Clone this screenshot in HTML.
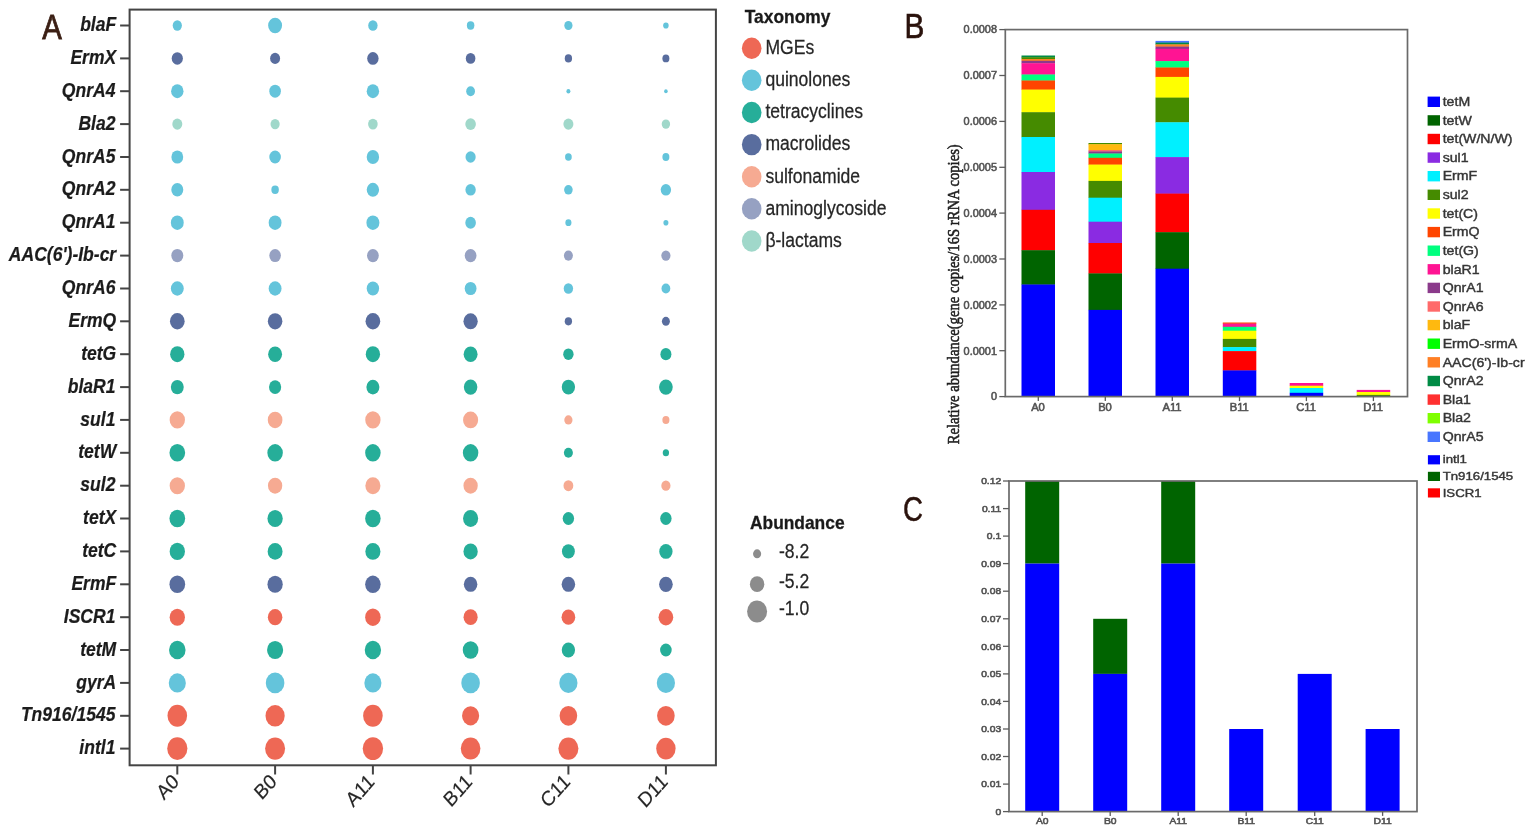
<!DOCTYPE html>
<html lang="en">
<head>
<meta charset="utf-8">
<title>ARG and MGE abundance figure</title>
<style>
html,body{margin:0;padding:0;background:#fff;}
body{width:1535px;height:833px;overflow:hidden;}
svg{display:block;}
</style>
</head>
<body>
<svg width="1535" height="833" viewBox="0 0 1535 833">
<rect width="1535" height="833" fill="#ffffff"/>
<g>
<g id="panelA">
<rect x="129.6" y="9.6" width="586.3" height="755.7" fill="none" stroke="#444" stroke-width="2"/>
<line x1="120.1" y1="25.5" x2="129.6" y2="25.5" stroke="#444" stroke-width="2"/>
<line x1="120.1" y1="58.4" x2="129.6" y2="58.4" stroke="#444" stroke-width="2"/>
<line x1="120.1" y1="91.2" x2="129.6" y2="91.2" stroke="#444" stroke-width="2"/>
<line x1="120.1" y1="124.1" x2="129.6" y2="124.1" stroke="#444" stroke-width="2"/>
<line x1="120.1" y1="157.0" x2="129.6" y2="157.0" stroke="#444" stroke-width="2"/>
<line x1="120.1" y1="189.8" x2="129.6" y2="189.8" stroke="#444" stroke-width="2"/>
<line x1="120.1" y1="222.7" x2="129.6" y2="222.7" stroke="#444" stroke-width="2"/>
<line x1="120.1" y1="255.6" x2="129.6" y2="255.6" stroke="#444" stroke-width="2"/>
<line x1="120.1" y1="288.5" x2="129.6" y2="288.5" stroke="#444" stroke-width="2"/>
<line x1="120.1" y1="321.3" x2="129.6" y2="321.3" stroke="#444" stroke-width="2"/>
<line x1="120.1" y1="354.2" x2="129.6" y2="354.2" stroke="#444" stroke-width="2"/>
<line x1="120.1" y1="387.1" x2="129.6" y2="387.1" stroke="#444" stroke-width="2"/>
<line x1="120.1" y1="419.9" x2="129.6" y2="419.9" stroke="#444" stroke-width="2"/>
<line x1="120.1" y1="452.8" x2="129.6" y2="452.8" stroke="#444" stroke-width="2"/>
<line x1="120.1" y1="485.7" x2="129.6" y2="485.7" stroke="#444" stroke-width="2"/>
<line x1="120.1" y1="518.5" x2="129.6" y2="518.5" stroke="#444" stroke-width="2"/>
<line x1="120.1" y1="551.4" x2="129.6" y2="551.4" stroke="#444" stroke-width="2"/>
<line x1="120.1" y1="584.3" x2="129.6" y2="584.3" stroke="#444" stroke-width="2"/>
<line x1="120.1" y1="617.2" x2="129.6" y2="617.2" stroke="#444" stroke-width="2"/>
<line x1="120.1" y1="650.0" x2="129.6" y2="650.0" stroke="#444" stroke-width="2"/>
<line x1="120.1" y1="682.9" x2="129.6" y2="682.9" stroke="#444" stroke-width="2"/>
<line x1="120.1" y1="715.8" x2="129.6" y2="715.8" stroke="#444" stroke-width="2"/>
<line x1="120.1" y1="748.6" x2="129.6" y2="748.6" stroke="#444" stroke-width="2"/>
<line x1="177.3" y1="765.3" x2="177.3" y2="774.5" stroke="#444" stroke-width="2"/>
<line x1="275.1" y1="765.3" x2="275.1" y2="774.5" stroke="#444" stroke-width="2"/>
<line x1="372.9" y1="765.3" x2="372.9" y2="774.5" stroke="#444" stroke-width="2"/>
<line x1="470.6" y1="765.3" x2="470.6" y2="774.5" stroke="#444" stroke-width="2"/>
<line x1="568.4" y1="765.3" x2="568.4" y2="774.5" stroke="#444" stroke-width="2"/>
<line x1="665.9" y1="765.3" x2="665.9" y2="774.5" stroke="#444" stroke-width="2"/>
<g font-family="'Liberation Sans', Arial, sans-serif" font-weight="bold" font-style="italic" font-size="19.6" fill="#1c1c1c" stroke="#1c1c1c" stroke-width="0.22" text-anchor="end">
<text transform="translate(116.2 31.1) scale(0.895 1)">blaF</text>
<text transform="translate(116.2 64.0) scale(0.895 1)">ErmX</text>
<text transform="translate(115.4 96.8) scale(0.895 1)">QnrA4</text>
<text transform="translate(115.4 129.7) scale(0.895 1)">Bla2</text>
<text transform="translate(115.4 162.6) scale(0.895 1)">QnrA5</text>
<text transform="translate(115.4 195.4) scale(0.895 1)">QnrA2</text>
<text transform="translate(115.4 228.3) scale(0.895 1)">QnrA1</text>
<text transform="translate(116.2 261.2) scale(0.895 1)">AAC(6')-Ib-cr</text>
<text transform="translate(115.4 294.1) scale(0.895 1)">QnrA6</text>
<text transform="translate(116.2 326.9) scale(0.895 1)">ErmQ</text>
<text transform="translate(116.2 359.8) scale(0.895 1)">tetG</text>
<text transform="translate(115.4 392.7) scale(0.895 1)">blaR1</text>
<text transform="translate(115.4 425.5) scale(0.895 1)">sul1</text>
<text transform="translate(116.2 458.4) scale(0.895 1)">tetW</text>
<text transform="translate(115.4 491.3) scale(0.895 1)">sul2</text>
<text transform="translate(116.2 524.1) scale(0.895 1)">tetX</text>
<text transform="translate(116.2 557.0) scale(0.895 1)">tetC</text>
<text transform="translate(116.2 589.9) scale(0.895 1)">ErmF</text>
<text transform="translate(115.4 622.8) scale(0.895 1)">ISCR1</text>
<text transform="translate(116.2 655.6) scale(0.895 1)">tetM</text>
<text transform="translate(116.2 688.5) scale(0.895 1)">gyrA</text>
<text transform="translate(115.4 721.4) scale(0.895 1)">Tn916/1545</text>
<text transform="translate(115.4 754.2) scale(0.895 1)">intl1</text>
</g>
<ellipse cx="177.3" cy="25.5" rx="4.60" ry="5.15" fill="#64C4DB"/>
<ellipse cx="275.1" cy="25.5" rx="6.95" ry="7.78" fill="#64C4DB"/>
<ellipse cx="372.9" cy="25.5" rx="4.70" ry="5.26" fill="#64C4DB"/>
<ellipse cx="470.6" cy="25.5" rx="3.75" ry="4.20" fill="#64C4DB"/>
<ellipse cx="568.4" cy="25.5" rx="4.10" ry="4.59" fill="#64C4DB"/>
<ellipse cx="665.9" cy="25.5" rx="2.75" ry="3.08" fill="#64C4DB"/>
<ellipse cx="177.3" cy="58.4" rx="5.60" ry="6.27" fill="#596D9E"/>
<ellipse cx="275.1" cy="58.4" rx="5.00" ry="5.60" fill="#596D9E"/>
<ellipse cx="372.9" cy="58.4" rx="5.70" ry="6.38" fill="#596D9E"/>
<ellipse cx="470.6" cy="58.4" rx="4.80" ry="5.38" fill="#596D9E"/>
<ellipse cx="568.4" cy="58.4" rx="3.65" ry="4.09" fill="#596D9E"/>
<ellipse cx="665.9" cy="58.4" rx="3.50" ry="3.92" fill="#596D9E"/>
<ellipse cx="177.3" cy="91.2" rx="6.20" ry="6.94" fill="#64C4DB"/>
<ellipse cx="275.1" cy="91.2" rx="5.80" ry="6.50" fill="#64C4DB"/>
<ellipse cx="372.9" cy="91.2" rx="6.20" ry="6.94" fill="#64C4DB"/>
<ellipse cx="470.6" cy="91.2" rx="4.40" ry="4.93" fill="#64C4DB"/>
<ellipse cx="568.4" cy="91.2" rx="2.00" ry="2.24" fill="#64C4DB"/>
<ellipse cx="665.9" cy="91.2" rx="1.80" ry="2.02" fill="#64C4DB"/>
<ellipse cx="177.3" cy="124.1" rx="5.00" ry="5.60" fill="#A0D8CA"/>
<ellipse cx="275.1" cy="124.1" rx="4.60" ry="5.15" fill="#A0D8CA"/>
<ellipse cx="372.9" cy="124.1" rx="4.80" ry="5.38" fill="#A0D8CA"/>
<ellipse cx="470.6" cy="124.1" rx="5.30" ry="5.94" fill="#A0D8CA"/>
<ellipse cx="568.4" cy="124.1" rx="5.00" ry="5.60" fill="#A0D8CA"/>
<ellipse cx="665.9" cy="124.1" rx="4.20" ry="4.70" fill="#A0D8CA"/>
<ellipse cx="177.3" cy="157.0" rx="5.90" ry="6.61" fill="#64C4DB"/>
<ellipse cx="275.1" cy="157.0" rx="5.80" ry="6.50" fill="#64C4DB"/>
<ellipse cx="372.9" cy="157.0" rx="6.20" ry="6.94" fill="#64C4DB"/>
<ellipse cx="470.6" cy="157.0" rx="5.10" ry="5.71" fill="#64C4DB"/>
<ellipse cx="568.4" cy="157.0" rx="3.35" ry="3.75" fill="#64C4DB"/>
<ellipse cx="665.9" cy="157.0" rx="3.50" ry="3.92" fill="#64C4DB"/>
<ellipse cx="177.3" cy="189.8" rx="6.00" ry="6.72" fill="#64C4DB"/>
<ellipse cx="275.1" cy="189.8" rx="3.75" ry="4.20" fill="#64C4DB"/>
<ellipse cx="372.9" cy="189.8" rx="6.20" ry="6.94" fill="#64C4DB"/>
<ellipse cx="470.6" cy="189.8" rx="5.20" ry="5.82" fill="#64C4DB"/>
<ellipse cx="568.4" cy="189.8" rx="4.30" ry="4.82" fill="#64C4DB"/>
<ellipse cx="665.9" cy="189.8" rx="5.20" ry="5.82" fill="#64C4DB"/>
<ellipse cx="177.3" cy="222.7" rx="6.45" ry="7.22" fill="#64C4DB"/>
<ellipse cx="275.1" cy="222.7" rx="6.45" ry="7.22" fill="#64C4DB"/>
<ellipse cx="372.9" cy="222.7" rx="6.50" ry="7.28" fill="#64C4DB"/>
<ellipse cx="470.6" cy="222.7" rx="5.30" ry="5.94" fill="#64C4DB"/>
<ellipse cx="568.4" cy="222.7" rx="3.05" ry="3.42" fill="#64C4DB"/>
<ellipse cx="665.9" cy="222.7" rx="2.50" ry="2.80" fill="#64C4DB"/>
<ellipse cx="177.3" cy="255.6" rx="6.00" ry="6.72" fill="#96A1C2"/>
<ellipse cx="275.1" cy="255.6" rx="5.80" ry="6.50" fill="#96A1C2"/>
<ellipse cx="372.9" cy="255.6" rx="5.90" ry="6.61" fill="#96A1C2"/>
<ellipse cx="470.6" cy="255.6" rx="5.90" ry="6.61" fill="#96A1C2"/>
<ellipse cx="568.4" cy="255.6" rx="4.50" ry="5.04" fill="#96A1C2"/>
<ellipse cx="665.9" cy="255.6" rx="4.60" ry="5.15" fill="#96A1C2"/>
<ellipse cx="177.3" cy="288.5" rx="6.45" ry="7.22" fill="#64C4DB"/>
<ellipse cx="275.1" cy="288.5" rx="6.45" ry="7.22" fill="#64C4DB"/>
<ellipse cx="372.9" cy="288.5" rx="6.20" ry="6.94" fill="#64C4DB"/>
<ellipse cx="470.6" cy="288.5" rx="5.90" ry="6.61" fill="#64C4DB"/>
<ellipse cx="568.4" cy="288.5" rx="4.70" ry="5.26" fill="#64C4DB"/>
<ellipse cx="665.9" cy="288.5" rx="4.40" ry="4.93" fill="#64C4DB"/>
<ellipse cx="177.3" cy="321.3" rx="7.35" ry="8.23" fill="#596D9E"/>
<ellipse cx="275.1" cy="321.3" rx="7.25" ry="8.12" fill="#596D9E"/>
<ellipse cx="372.9" cy="321.3" rx="7.35" ry="8.23" fill="#596D9E"/>
<ellipse cx="470.6" cy="321.3" rx="7.15" ry="8.01" fill="#596D9E"/>
<ellipse cx="568.4" cy="321.3" rx="3.65" ry="4.09" fill="#596D9E"/>
<ellipse cx="665.9" cy="321.3" rx="4.00" ry="4.48" fill="#596D9E"/>
<ellipse cx="177.3" cy="354.2" rx="7.15" ry="8.01" fill="#26AE99"/>
<ellipse cx="275.1" cy="354.2" rx="6.95" ry="7.78" fill="#26AE99"/>
<ellipse cx="372.9" cy="354.2" rx="7.15" ry="8.01" fill="#26AE99"/>
<ellipse cx="470.6" cy="354.2" rx="6.95" ry="7.78" fill="#26AE99"/>
<ellipse cx="568.4" cy="354.2" rx="5.20" ry="5.82" fill="#26AE99"/>
<ellipse cx="665.9" cy="354.2" rx="5.50" ry="6.16" fill="#26AE99"/>
<ellipse cx="177.3" cy="387.1" rx="6.45" ry="7.22" fill="#26AE99"/>
<ellipse cx="275.1" cy="387.1" rx="6.10" ry="6.83" fill="#26AE99"/>
<ellipse cx="372.9" cy="387.1" rx="6.50" ry="7.28" fill="#26AE99"/>
<ellipse cx="470.6" cy="387.1" rx="6.75" ry="7.56" fill="#26AE99"/>
<ellipse cx="568.4" cy="387.1" rx="6.65" ry="7.45" fill="#26AE99"/>
<ellipse cx="665.9" cy="387.1" rx="6.85" ry="7.67" fill="#26AE99"/>
<ellipse cx="177.3" cy="419.9" rx="7.65" ry="8.57" fill="#F6AA92"/>
<ellipse cx="275.1" cy="419.9" rx="7.35" ry="8.23" fill="#F6AA92"/>
<ellipse cx="372.9" cy="419.9" rx="7.65" ry="8.57" fill="#F6AA92"/>
<ellipse cx="470.6" cy="419.9" rx="7.55" ry="8.46" fill="#F6AA92"/>
<ellipse cx="568.4" cy="419.9" rx="4.10" ry="4.59" fill="#F6AA92"/>
<ellipse cx="665.9" cy="419.9" rx="3.55" ry="3.98" fill="#F6AA92"/>
<ellipse cx="177.3" cy="452.8" rx="7.85" ry="8.79" fill="#26AE99"/>
<ellipse cx="275.1" cy="452.8" rx="7.75" ry="8.68" fill="#26AE99"/>
<ellipse cx="372.9" cy="452.8" rx="7.75" ry="8.68" fill="#26AE99"/>
<ellipse cx="470.6" cy="452.8" rx="7.75" ry="8.68" fill="#26AE99"/>
<ellipse cx="568.4" cy="452.8" rx="4.50" ry="5.04" fill="#26AE99"/>
<ellipse cx="665.9" cy="452.8" rx="3.15" ry="3.53" fill="#26AE99"/>
<ellipse cx="177.3" cy="485.7" rx="7.65" ry="8.57" fill="#F6AA92"/>
<ellipse cx="275.1" cy="485.7" rx="7.15" ry="8.01" fill="#F6AA92"/>
<ellipse cx="372.9" cy="485.7" rx="7.55" ry="8.46" fill="#F6AA92"/>
<ellipse cx="470.6" cy="485.7" rx="7.15" ry="8.01" fill="#F6AA92"/>
<ellipse cx="568.4" cy="485.7" rx="4.90" ry="5.49" fill="#F6AA92"/>
<ellipse cx="665.9" cy="485.7" rx="4.60" ry="5.15" fill="#F6AA92"/>
<ellipse cx="177.3" cy="518.5" rx="7.85" ry="8.79" fill="#26AE99"/>
<ellipse cx="275.1" cy="518.5" rx="7.65" ry="8.57" fill="#26AE99"/>
<ellipse cx="372.9" cy="518.5" rx="7.75" ry="8.68" fill="#26AE99"/>
<ellipse cx="470.6" cy="518.5" rx="7.55" ry="8.46" fill="#26AE99"/>
<ellipse cx="568.4" cy="518.5" rx="5.70" ry="6.38" fill="#26AE99"/>
<ellipse cx="665.9" cy="518.5" rx="5.70" ry="6.38" fill="#26AE99"/>
<ellipse cx="177.3" cy="551.4" rx="7.65" ry="8.57" fill="#26AE99"/>
<ellipse cx="275.1" cy="551.4" rx="7.45" ry="8.34" fill="#26AE99"/>
<ellipse cx="372.9" cy="551.4" rx="7.55" ry="8.46" fill="#26AE99"/>
<ellipse cx="470.6" cy="551.4" rx="7.15" ry="8.01" fill="#26AE99"/>
<ellipse cx="568.4" cy="551.4" rx="6.45" ry="7.22" fill="#26AE99"/>
<ellipse cx="665.9" cy="551.4" rx="6.65" ry="7.45" fill="#26AE99"/>
<ellipse cx="177.3" cy="584.3" rx="7.85" ry="8.79" fill="#596D9E"/>
<ellipse cx="275.1" cy="584.3" rx="7.65" ry="8.57" fill="#596D9E"/>
<ellipse cx="372.9" cy="584.3" rx="7.75" ry="8.68" fill="#596D9E"/>
<ellipse cx="470.6" cy="584.3" rx="6.75" ry="7.56" fill="#596D9E"/>
<ellipse cx="568.4" cy="584.3" rx="6.75" ry="7.56" fill="#596D9E"/>
<ellipse cx="665.9" cy="584.3" rx="6.85" ry="7.67" fill="#596D9E"/>
<ellipse cx="177.3" cy="617.2" rx="7.65" ry="8.57" fill="#EE6855"/>
<ellipse cx="275.1" cy="617.2" rx="7.25" ry="8.12" fill="#EE6855"/>
<ellipse cx="372.9" cy="617.2" rx="7.75" ry="8.68" fill="#EE6855"/>
<ellipse cx="470.6" cy="617.2" rx="7.05" ry="7.90" fill="#EE6855"/>
<ellipse cx="568.4" cy="617.2" rx="6.85" ry="7.67" fill="#EE6855"/>
<ellipse cx="665.9" cy="617.2" rx="7.35" ry="8.23" fill="#EE6855"/>
<ellipse cx="177.3" cy="650.0" rx="8.25" ry="9.24" fill="#26AE99"/>
<ellipse cx="275.1" cy="650.0" rx="8.05" ry="9.02" fill="#26AE99"/>
<ellipse cx="372.9" cy="650.0" rx="8.15" ry="9.13" fill="#26AE99"/>
<ellipse cx="470.6" cy="650.0" rx="7.85" ry="8.79" fill="#26AE99"/>
<ellipse cx="568.4" cy="650.0" rx="6.65" ry="7.45" fill="#26AE99"/>
<ellipse cx="665.9" cy="650.0" rx="5.80" ry="6.50" fill="#26AE99"/>
<ellipse cx="177.3" cy="682.9" rx="8.55" ry="9.58" fill="#64C4DB"/>
<ellipse cx="275.1" cy="682.9" rx="9.30" ry="10.42" fill="#64C4DB"/>
<ellipse cx="372.9" cy="682.9" rx="8.55" ry="9.58" fill="#64C4DB"/>
<ellipse cx="470.6" cy="682.9" rx="9.30" ry="10.42" fill="#64C4DB"/>
<ellipse cx="568.4" cy="682.9" rx="9.10" ry="10.19" fill="#64C4DB"/>
<ellipse cx="665.9" cy="682.9" rx="9.10" ry="10.19" fill="#64C4DB"/>
<ellipse cx="177.3" cy="715.8" rx="9.80" ry="10.98" fill="#EE6855"/>
<ellipse cx="275.1" cy="715.8" rx="9.60" ry="10.75" fill="#EE6855"/>
<ellipse cx="372.9" cy="715.8" rx="9.80" ry="10.98" fill="#EE6855"/>
<ellipse cx="470.6" cy="715.8" rx="8.55" ry="9.58" fill="#EE6855"/>
<ellipse cx="568.4" cy="715.8" rx="8.80" ry="9.86" fill="#EE6855"/>
<ellipse cx="665.9" cy="715.8" rx="8.80" ry="9.86" fill="#EE6855"/>
<ellipse cx="177.3" cy="748.6" rx="10.10" ry="11.31" fill="#EE6855"/>
<ellipse cx="275.1" cy="748.6" rx="10.00" ry="11.20" fill="#EE6855"/>
<ellipse cx="372.9" cy="748.6" rx="10.20" ry="11.42" fill="#EE6855"/>
<ellipse cx="470.6" cy="748.6" rx="9.80" ry="10.98" fill="#EE6855"/>
<ellipse cx="568.4" cy="748.6" rx="10.00" ry="11.20" fill="#EE6855"/>
<ellipse cx="665.9" cy="748.6" rx="9.70" ry="10.86" fill="#EE6855"/>
<g font-family="'Liberation Sans', Arial, sans-serif" font-size="19.4" fill="#262626" stroke="#262626" stroke-width="0.15" text-anchor="end">
<text transform="translate(180.1 782.9) scale(0.96 1.07) rotate(-45)">A0</text>
<text transform="translate(277.9 782.9) scale(0.96 1.07) rotate(-45)">B0</text>
<text transform="translate(375.7 782.9) scale(0.96 1.07) rotate(-45)">A11</text>
<text transform="translate(473.4 782.9) scale(0.96 1.07) rotate(-45)">B11</text>
<text transform="translate(571.2 782.9) scale(0.96 1.07) rotate(-45)">C11</text>
<text transform="translate(668.7 782.9) scale(0.96 1.07) rotate(-45)">D11</text>
</g>
<text transform="translate(42.2 38.8) scale(0.84 1)" font-family="'Liberation Sans', Arial, sans-serif" font-size="35" fill="#3b1f14" stroke="#3b1f14" stroke-width="0.8">A</text>
</g>
<g id="legendA" font-family="'Liberation Sans', Arial, sans-serif">
<text transform="translate(744.8 23.4) scale(0.905 1)" font-weight="bold" font-size="19.2" fill="#1a1a1a" stroke="#1a1a1a" stroke-width="0.3">Taxonomy</text>
<ellipse cx="751.7" cy="48.2" rx="9.8" ry="10.7" fill="#EE6855"/>
<text transform="translate(765.4 54.0) scale(0.905 1)" font-size="19.4" fill="#262626" stroke="#262626" stroke-width="0.25">MGEs</text>
<ellipse cx="751.7" cy="80.3" rx="9.8" ry="10.7" fill="#64C4DB"/>
<text transform="translate(765.4 86.1) scale(0.905 1)" font-size="19.4" fill="#262626" stroke="#262626" stroke-width="0.25">quinolones</text>
<ellipse cx="751.7" cy="112.5" rx="9.8" ry="10.7" fill="#26AE99"/>
<text transform="translate(765.4 118.3) scale(0.905 1)" font-size="19.4" fill="#262626" stroke="#262626" stroke-width="0.25">tetracyclines</text>
<ellipse cx="751.7" cy="144.6" rx="9.8" ry="10.7" fill="#596D9E"/>
<text transform="translate(765.4 150.4) scale(0.905 1)" font-size="19.4" fill="#262626" stroke="#262626" stroke-width="0.25">macrolides</text>
<ellipse cx="751.7" cy="176.7" rx="9.8" ry="10.7" fill="#F6AA92"/>
<text transform="translate(765.4 182.5) scale(0.905 1)" font-size="19.4" fill="#262626" stroke="#262626" stroke-width="0.25">sulfonamide</text>
<ellipse cx="751.7" cy="208.8" rx="9.8" ry="10.7" fill="#96A1C2"/>
<text transform="translate(765.4 214.7) scale(0.905 1)" font-size="19.4" fill="#262626" stroke="#262626" stroke-width="0.25">aminoglycoside</text>
<ellipse cx="751.7" cy="241.0" rx="9.8" ry="10.7" fill="#A0D8CA"/>
<text transform="translate(765.4 246.8) scale(0.905 1)" font-size="19.4" fill="#262626" stroke="#262626" stroke-width="0.25">β-lactams</text>
<text transform="translate(750 529.2) scale(0.905 1)" font-weight="bold" font-size="19.2" fill="#1a1a1a" stroke="#1a1a1a" stroke-width="0.3">Abundance</text>
<ellipse cx="757.1" cy="553.8" rx="4.05" ry="4.46" fill="#8c8c8c"/>
<text transform="translate(779 557.7) scale(0.905 1)" font-size="19.4" fill="#262626" stroke="#262626" stroke-width="0.25">-8.2</text>
<ellipse cx="757.1" cy="584.2" rx="7.20" ry="7.92" fill="#8c8c8c"/>
<text transform="translate(779 588.1) scale(0.905 1)" font-size="19.4" fill="#262626" stroke="#262626" stroke-width="0.25">-5.2</text>
<ellipse cx="757.1" cy="611.5" rx="10.00" ry="11.00" fill="#8c8c8c"/>
<text transform="translate(779 615.1) scale(0.905 1)" font-size="19.4" fill="#262626" stroke="#262626" stroke-width="0.25">-1.0</text>
</g>
<g id="panelB">
<rect x="1021.5" y="55.5" width="33.5" height="2.0" fill="#008B45"/>
<rect x="1021.5" y="57.2" width="33.5" height="2.1" fill="#458B00"/>
<rect x="1021.5" y="59.0" width="33.5" height="2.1" fill="#FF7F24"/>
<rect x="1021.5" y="60.8" width="33.5" height="2.7" fill="#8B3A8B"/>
<rect x="1021.5" y="63.2" width="33.5" height="11.6" fill="#FF1493"/>
<rect x="1021.5" y="74.5" width="33.5" height="6.3" fill="#00FF7F"/>
<rect x="1021.5" y="80.5" width="33.5" height="9.4" fill="#FF4500"/>
<rect x="1021.5" y="89.6" width="33.5" height="22.9" fill="#FFFF00"/>
<rect x="1021.5" y="112.2" width="33.5" height="25.1" fill="#458B00"/>
<rect x="1021.5" y="137.0" width="33.5" height="35.3" fill="#00F0FF"/>
<rect x="1021.5" y="172.0" width="33.5" height="38.1" fill="#8A2BE2"/>
<rect x="1021.5" y="209.8" width="33.5" height="40.7" fill="#FF0000"/>
<rect x="1021.5" y="250.2" width="33.5" height="34.6" fill="#006400"/>
<rect x="1021.5" y="284.5" width="33.5" height="112.4" fill="#0000FF"/>
<rect x="1088.5" y="143.0" width="33.5" height="1.5" fill="#458B00"/>
<rect x="1088.5" y="144.2" width="33.5" height="6.1" fill="#FFB90F"/>
<rect x="1088.5" y="150.0" width="33.5" height="1.7" fill="#FF6A6A"/>
<rect x="1088.5" y="151.4" width="33.5" height="2.4" fill="#8B3A8B"/>
<rect x="1088.5" y="153.5" width="33.5" height="4.6" fill="#00FF7F"/>
<rect x="1088.5" y="157.8" width="33.5" height="7.1" fill="#FF4500"/>
<rect x="1088.5" y="164.6" width="33.5" height="16.6" fill="#FFFF00"/>
<rect x="1088.5" y="180.9" width="33.5" height="17.1" fill="#458B00"/>
<rect x="1088.5" y="197.7" width="33.5" height="24.3" fill="#00F0FF"/>
<rect x="1088.5" y="221.7" width="33.5" height="21.6" fill="#8A2BE2"/>
<rect x="1088.5" y="243.0" width="33.5" height="30.7" fill="#FF0000"/>
<rect x="1088.5" y="273.4" width="33.5" height="36.8" fill="#006400"/>
<rect x="1088.5" y="309.9" width="33.5" height="87.0" fill="#0000FF"/>
<rect x="1155.5" y="40.9" width="33.5" height="2.0" fill="#4876FF"/>
<rect x="1155.5" y="42.6" width="33.5" height="2.1" fill="#008B45"/>
<rect x="1155.5" y="44.4" width="33.5" height="2.5" fill="#FF7F24"/>
<rect x="1155.5" y="46.6" width="33.5" height="2.5" fill="#8B3A8B"/>
<rect x="1155.5" y="48.8" width="33.5" height="12.6" fill="#FF1493"/>
<rect x="1155.5" y="61.1" width="33.5" height="6.7" fill="#00FF7F"/>
<rect x="1155.5" y="67.5" width="33.5" height="9.7" fill="#FF4500"/>
<rect x="1155.5" y="76.9" width="33.5" height="21.0" fill="#FFFF00"/>
<rect x="1155.5" y="97.6" width="33.5" height="25.0" fill="#458B00"/>
<rect x="1155.5" y="122.3" width="33.5" height="35.1" fill="#00F0FF"/>
<rect x="1155.5" y="157.1" width="33.5" height="36.8" fill="#8A2BE2"/>
<rect x="1155.5" y="193.6" width="33.5" height="38.9" fill="#FF0000"/>
<rect x="1155.5" y="232.2" width="33.5" height="36.8" fill="#006400"/>
<rect x="1155.5" y="268.7" width="33.5" height="128.2" fill="#0000FF"/>
<rect x="1222.8" y="322.5" width="33.5" height="1.4" fill="#FF4500"/>
<rect x="1222.8" y="323.6" width="33.5" height="3.5" fill="#FF1493"/>
<rect x="1222.8" y="326.8" width="33.5" height="4.2" fill="#00FF7F"/>
<rect x="1222.8" y="330.7" width="33.5" height="8.5" fill="#FFFF00"/>
<rect x="1222.8" y="338.9" width="33.5" height="8.5" fill="#458B00"/>
<rect x="1222.8" y="347.1" width="33.5" height="4.3" fill="#00F0FF"/>
<rect x="1222.8" y="351.1" width="33.5" height="19.6" fill="#FF0000"/>
<rect x="1222.8" y="370.4" width="33.5" height="26.5" fill="#0000FF"/>
<rect x="1289.7" y="383.0" width="33.5" height="3.0" fill="#FF1493"/>
<rect x="1289.7" y="385.7" width="33.5" height="2.6" fill="#FFFF00"/>
<rect x="1289.7" y="388.0" width="33.5" height="5.1" fill="#00F0FF"/>
<rect x="1289.7" y="392.8" width="33.5" height="4.1" fill="#0000FF"/>
<rect x="1356.7" y="389.9" width="33.5" height="2.4" fill="#FF1493"/>
<rect x="1356.7" y="392.0" width="33.5" height="3.2" fill="#FFFF00"/>
<rect x="1356.7" y="394.9" width="33.5" height="2.0" fill="#458B00"/>
<rect x="1005.3" y="29.6" width="402.2" height="367.0" fill="none" stroke="#6a6a6a" stroke-width="1.7"/>
<g font-family="'Liberation Sans', Arial, sans-serif" font-size="10.5" fill="#525252" stroke="#525252" stroke-width="0.55">
<line x1="999.3" y1="396.6" x2="1005.3" y2="396.6" stroke="#5c5c5c" stroke-width="1.3"/>
<text transform="translate(997.0 400.4) scale(1.04 1)" text-anchor="end">0</text>
<line x1="999.3" y1="350.7" x2="1005.3" y2="350.7" stroke="#5c5c5c" stroke-width="1.3"/>
<text transform="translate(997.0 354.5) scale(1.04 1)" text-anchor="end">0.0001</text>
<line x1="999.3" y1="304.9" x2="1005.3" y2="304.9" stroke="#5c5c5c" stroke-width="1.3"/>
<text transform="translate(997.0 308.7) scale(1.04 1)" text-anchor="end">0.0002</text>
<line x1="999.3" y1="259.0" x2="1005.3" y2="259.0" stroke="#5c5c5c" stroke-width="1.3"/>
<text transform="translate(997.0 262.8) scale(1.04 1)" text-anchor="end">0.0003</text>
<line x1="999.3" y1="213.1" x2="1005.3" y2="213.1" stroke="#5c5c5c" stroke-width="1.3"/>
<text transform="translate(997.0 216.9) scale(1.04 1)" text-anchor="end">0.0004</text>
<line x1="999.3" y1="167.3" x2="1005.3" y2="167.3" stroke="#5c5c5c" stroke-width="1.3"/>
<text transform="translate(997.0 171.1) scale(1.04 1)" text-anchor="end">0.0005</text>
<line x1="999.3" y1="121.4" x2="1005.3" y2="121.4" stroke="#5c5c5c" stroke-width="1.3"/>
<text transform="translate(997.0 125.2) scale(1.04 1)" text-anchor="end">0.0006</text>
<line x1="999.3" y1="75.5" x2="1005.3" y2="75.5" stroke="#5c5c5c" stroke-width="1.3"/>
<text transform="translate(997.0 79.3) scale(1.04 1)" text-anchor="end">0.0007</text>
<line x1="999.3" y1="29.6" x2="1005.3" y2="29.6" stroke="#5c5c5c" stroke-width="1.3"/>
<text transform="translate(997.0 33.4) scale(1.04 1)" text-anchor="end">0.0008</text>
<line x1="1038.3" y1="396.6" x2="1038.3" y2="401.1" stroke="#5c5c5c" stroke-width="1.3"/>
<text transform="translate(1038.0 410.9) scale(1.07 1)" text-anchor="middle">A0</text>
<line x1="1105.3" y1="396.6" x2="1105.3" y2="401.1" stroke="#5c5c5c" stroke-width="1.3"/>
<text transform="translate(1105.0 410.9) scale(1.07 1)" text-anchor="middle">B0</text>
<line x1="1172.3" y1="396.6" x2="1172.3" y2="401.1" stroke="#5c5c5c" stroke-width="1.3"/>
<text transform="translate(1172.0 410.9) scale(1.07 1)" text-anchor="middle">A11</text>
<line x1="1239.5" y1="396.6" x2="1239.5" y2="401.1" stroke="#5c5c5c" stroke-width="1.3"/>
<text transform="translate(1239.2 410.9) scale(1.07 1)" text-anchor="middle">B11</text>
<line x1="1306.4" y1="396.6" x2="1306.4" y2="401.1" stroke="#5c5c5c" stroke-width="1.3"/>
<text transform="translate(1306.1 410.9) scale(1.07 1)" text-anchor="middle">C11</text>
<line x1="1373.4" y1="396.6" x2="1373.4" y2="401.1" stroke="#5c5c5c" stroke-width="1.3"/>
<text transform="translate(1373.1 410.9) scale(1.07 1)" text-anchor="middle">D11</text>
</g>
<text transform="translate(958.8 444.3) rotate(-90)" font-family="'Liberation Serif', 'Times New Roman', serif" font-size="17.6" fill="#1e1e1e" stroke="#1e1e1e" stroke-width="0.55" textLength="300" lengthAdjust="spacingAndGlyphs">Relative abundance(gene copies/16S rRNA copies)</text>
<text transform="translate(904.6 38.1) scale(0.85 1)" font-family="'Liberation Sans', Arial, sans-serif" font-size="35" fill="#2a120c" stroke="#2a120c" stroke-width="0.7">B</text>
<g font-family="'Liberation Sans', Arial, sans-serif" font-size="12.4" fill="#363636" stroke="#363636" stroke-width="0.4">
<rect x="1427.6" y="96.6" width="12.4" height="10.4" fill="#0000FF" stroke="none"/>
<text transform="translate(1442.7 106.0) scale(1.14 1)">tetM</text>
<rect x="1427.6" y="115.2" width="12.4" height="10.4" fill="#006400" stroke="none"/>
<text transform="translate(1442.7 124.6) scale(1.14 1)">tetW</text>
<rect x="1427.6" y="133.8" width="12.4" height="10.4" fill="#FF0000" stroke="none"/>
<text transform="translate(1442.7 143.2) scale(1.14 1)">tet(W/N/W)</text>
<rect x="1427.6" y="152.4" width="12.4" height="10.4" fill="#8A2BE2" stroke="none"/>
<text transform="translate(1442.7 161.8) scale(1.14 1)">sul1</text>
<rect x="1427.6" y="171.0" width="12.4" height="10.4" fill="#00F0FF" stroke="none"/>
<text transform="translate(1442.7 180.4) scale(1.14 1)">ErmF</text>
<rect x="1427.6" y="189.6" width="12.4" height="10.4" fill="#458B00" stroke="none"/>
<text transform="translate(1442.7 199.0) scale(1.14 1)">sul2</text>
<rect x="1427.6" y="208.3" width="12.4" height="10.4" fill="#FFFF00" stroke="none"/>
<text transform="translate(1442.7 217.7) scale(1.14 1)">tet(C)</text>
<rect x="1427.6" y="226.9" width="12.4" height="10.4" fill="#FF4500" stroke="none"/>
<text transform="translate(1442.7 236.3) scale(1.14 1)">ErmQ</text>
<rect x="1427.6" y="245.5" width="12.4" height="10.4" fill="#00FF7F" stroke="none"/>
<text transform="translate(1442.7 254.9) scale(1.14 1)">tet(G)</text>
<rect x="1427.6" y="264.1" width="12.4" height="10.4" fill="#FF1493" stroke="none"/>
<text transform="translate(1442.7 273.5) scale(1.14 1)">blaR1</text>
<rect x="1427.6" y="282.7" width="12.4" height="10.4" fill="#8B3A8B" stroke="none"/>
<text transform="translate(1442.7 292.1) scale(1.14 1)">QnrA1</text>
<rect x="1427.6" y="301.3" width="12.4" height="10.4" fill="#FF6A6A" stroke="none"/>
<text transform="translate(1442.7 310.7) scale(1.14 1)">QnrA6</text>
<rect x="1427.6" y="319.9" width="12.4" height="10.4" fill="#FFB90F" stroke="none"/>
<text transform="translate(1442.7 329.3) scale(1.14 1)">blaF</text>
<rect x="1427.6" y="338.5" width="12.4" height="10.4" fill="#00FF00" stroke="none"/>
<text transform="translate(1442.7 347.9) scale(1.14 1)">ErmO-srmA</text>
<rect x="1427.6" y="357.1" width="12.4" height="10.4" fill="#FF7F24" stroke="none"/>
<text transform="translate(1442.7 366.5) scale(1.14 1)">AAC(6')-Ib-cr</text>
<rect x="1427.6" y="375.8" width="12.4" height="10.4" fill="#008B45" stroke="none"/>
<text transform="translate(1442.7 385.1) scale(1.14 1)">QnrA2</text>
<rect x="1427.6" y="394.4" width="12.4" height="10.4" fill="#FF3030" stroke="none"/>
<text transform="translate(1442.7 403.8) scale(1.14 1)">Bla1</text>
<rect x="1427.6" y="413.0" width="12.4" height="10.4" fill="#7FFF00" stroke="none"/>
<text transform="translate(1442.7 422.4) scale(1.14 1)">Bla2</text>
<rect x="1427.6" y="431.6" width="12.4" height="10.4" fill="#4876FF" stroke="none"/>
<text transform="translate(1442.7 441.0) scale(1.14 1)">QnrA5</text>
</g>
</g>
<g id="panelC">
<rect x="1025.2" y="481.0" width="34" height="82.6" fill="#006400"/>
<rect x="1025.2" y="563.6" width="34" height="248.0" fill="#0000FF"/>
<rect x="1093.2" y="618.8" width="34" height="55.1" fill="#006400"/>
<rect x="1093.2" y="673.9" width="34" height="137.8" fill="#0000FF"/>
<rect x="1161.2" y="481.0" width="34" height="82.6" fill="#006400"/>
<rect x="1161.2" y="563.6" width="34" height="248.0" fill="#0000FF"/>
<rect x="1229.2" y="729.0" width="34" height="82.6" fill="#0000FF"/>
<rect x="1297.7" y="673.9" width="34" height="137.8" fill="#0000FF"/>
<rect x="1365.6" y="729.0" width="34" height="82.6" fill="#0000FF"/>
<rect x="1009.0" y="481.0" width="408.0" height="330.6" fill="none" stroke="#6a6a6a" stroke-width="1.7"/>
<g font-family="'Liberation Sans', Arial, sans-serif" font-size="8.9" fill="#525252" stroke="#525252" stroke-width="0.55">
<line x1="1003.0" y1="811.6" x2="1009.0" y2="811.6" stroke="#5c5c5c" stroke-width="1.3"/>
<text transform="translate(1001.2 814.8) scale(1.16 1)" text-anchor="end">0</text>
<line x1="1003.0" y1="784.1" x2="1009.0" y2="784.1" stroke="#5c5c5c" stroke-width="1.3"/>
<text transform="translate(1001.2 787.3) scale(1.16 1)" text-anchor="end">0.01</text>
<line x1="1003.0" y1="756.5" x2="1009.0" y2="756.5" stroke="#5c5c5c" stroke-width="1.3"/>
<text transform="translate(1001.2 759.7) scale(1.16 1)" text-anchor="end">0.02</text>
<line x1="1003.0" y1="729.0" x2="1009.0" y2="729.0" stroke="#5c5c5c" stroke-width="1.3"/>
<text transform="translate(1001.2 732.2) scale(1.16 1)" text-anchor="end">0.03</text>
<line x1="1003.0" y1="701.4" x2="1009.0" y2="701.4" stroke="#5c5c5c" stroke-width="1.3"/>
<text transform="translate(1001.2 704.6) scale(1.16 1)" text-anchor="end">0.04</text>
<line x1="1003.0" y1="673.9" x2="1009.0" y2="673.9" stroke="#5c5c5c" stroke-width="1.3"/>
<text transform="translate(1001.2 677.1) scale(1.16 1)" text-anchor="end">0.05</text>
<line x1="1003.0" y1="646.3" x2="1009.0" y2="646.3" stroke="#5c5c5c" stroke-width="1.3"/>
<text transform="translate(1001.2 649.5) scale(1.16 1)" text-anchor="end">0.06</text>
<line x1="1003.0" y1="618.8" x2="1009.0" y2="618.8" stroke="#5c5c5c" stroke-width="1.3"/>
<text transform="translate(1001.2 622.0) scale(1.16 1)" text-anchor="end">0.07</text>
<line x1="1003.0" y1="591.2" x2="1009.0" y2="591.2" stroke="#5c5c5c" stroke-width="1.3"/>
<text transform="translate(1001.2 594.4) scale(1.16 1)" text-anchor="end">0.08</text>
<line x1="1003.0" y1="563.6" x2="1009.0" y2="563.6" stroke="#5c5c5c" stroke-width="1.3"/>
<text transform="translate(1001.2 566.9) scale(1.16 1)" text-anchor="end">0.09</text>
<line x1="1003.0" y1="536.1" x2="1009.0" y2="536.1" stroke="#5c5c5c" stroke-width="1.3"/>
<text transform="translate(1001.2 539.3) scale(1.16 1)" text-anchor="end">0.1</text>
<line x1="1003.0" y1="508.6" x2="1009.0" y2="508.6" stroke="#5c5c5c" stroke-width="1.3"/>
<text transform="translate(1001.2 511.8) scale(1.16 1)" text-anchor="end">0.11</text>
<line x1="1003.0" y1="481.0" x2="1009.0" y2="481.0" stroke="#5c5c5c" stroke-width="1.3"/>
<text transform="translate(1001.2 484.2) scale(1.16 1)" text-anchor="end">0.12</text>
<line x1="1042.2" y1="811.6" x2="1042.2" y2="815.9" stroke="#5c5c5c" stroke-width="1.3"/>
<text transform="translate(1042.2 823.8) scale(1.16 1)" text-anchor="middle">A0</text>
<line x1="1110.2" y1="811.6" x2="1110.2" y2="815.9" stroke="#5c5c5c" stroke-width="1.3"/>
<text transform="translate(1110.2 823.8) scale(1.16 1)" text-anchor="middle">B0</text>
<line x1="1178.2" y1="811.6" x2="1178.2" y2="815.9" stroke="#5c5c5c" stroke-width="1.3"/>
<text transform="translate(1178.2 823.8) scale(1.16 1)" text-anchor="middle">A11</text>
<line x1="1246.2" y1="811.6" x2="1246.2" y2="815.9" stroke="#5c5c5c" stroke-width="1.3"/>
<text transform="translate(1246.2 823.8) scale(1.16 1)" text-anchor="middle">B11</text>
<line x1="1314.7" y1="811.6" x2="1314.7" y2="815.9" stroke="#5c5c5c" stroke-width="1.3"/>
<text transform="translate(1314.7 823.8) scale(1.16 1)" text-anchor="middle">C11</text>
<line x1="1382.6" y1="811.6" x2="1382.6" y2="815.9" stroke="#5c5c5c" stroke-width="1.3"/>
<text transform="translate(1382.6 823.8) scale(1.16 1)" text-anchor="middle">D11</text>
</g>
<text transform="translate(903 521.4) scale(0.79 1)" font-family="'Liberation Sans', Arial, sans-serif" font-size="35" fill="#2a120c" stroke="#2a120c" stroke-width="0.5">C</text>
<g font-family="'Liberation Sans', Arial, sans-serif" font-size="11.2" fill="#363636" stroke="#363636" stroke-width="0.4">
<rect x="1427.9" y="455.2" width="12.1" height="9.2" fill="#0000FF" stroke="none"/>
<text transform="translate(1442.7 463.4) scale(1.18 1)">intl1</text>
<rect x="1427.9" y="471.8" width="12.1" height="9.2" fill="#006400" stroke="none"/>
<text transform="translate(1442.7 480.0) scale(1.18 1)">Tn916/1545</text>
<rect x="1427.9" y="488.3" width="12.1" height="9.2" fill="#FF0000" stroke="none"/>
<text transform="translate(1442.7 496.5) scale(1.18 1)">ISCR1</text>
</g>
</g>
</g>
</svg>
</body>
</html>
